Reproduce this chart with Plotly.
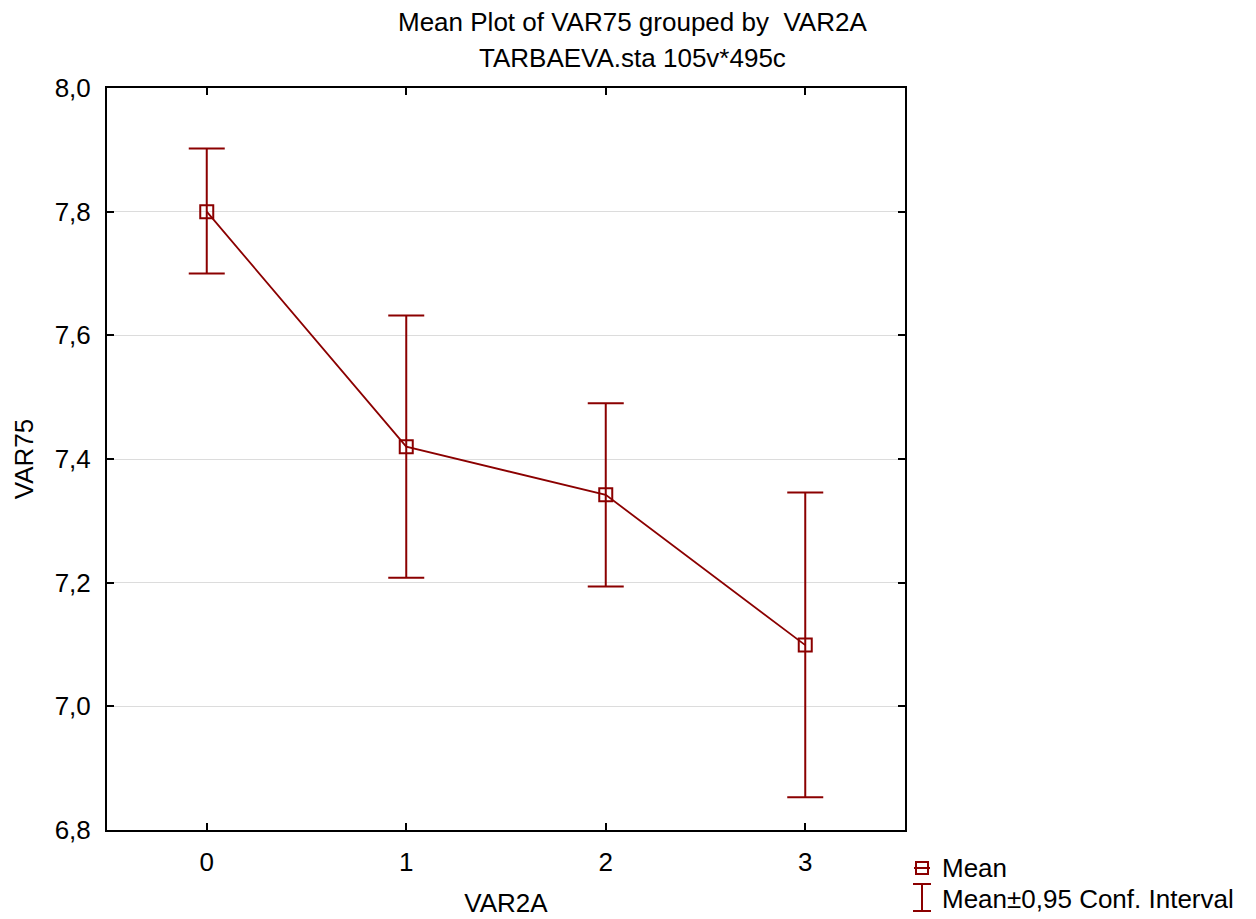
import plotly.graph_objects as go

# Data
categories = [0, 1, 2, 3]
means = [7.800, 7.420, 7.342, 7.099]
ci_upper = [7.902, 7.632, 7.490, 7.346]
ci_lower = [7.700, 7.208, 7.194, 6.853]
y_ticks = [6.8, 7.0, 7.2, 7.4, 7.6, 7.8, 8.0]

RED = "#8b0000"
FONT = "Liberation Sans, Arial, sans-serif"
FS = 26

err_plus = [u - m for u, m in zip(ci_upper, means)]
err_minus = [m - l for m, l in zip(means, ci_lower)]

fig = go.Figure()
fig.add_trace(go.Scatter(
    x=categories, y=means, mode="lines+markers",
    line=dict(color=RED, width=1.8),
    marker=dict(symbol="square-open", size=13, color=RED, line=dict(width=2, color=RED)),
    error_y=dict(type="data", symmetric=False, array=err_plus, arrayminus=err_minus,
                 color=RED, thickness=2, width=18),
    showlegend=False,
))

# The page body has an 8px margin; work in page pixels and shift.
OFF = 8
W, H = 1256 - OFF, 919 - OFF
L, R, T, B = 107 - OFF, 905 - OFF, 88 - OFF, 830 - OFF
pw, ph = R - L, B - T

def px(xp):
    return (xp - OFF - L) / pw

def py(yp):
    return (B - (yp - OFF)) / ph

shapes = []
# Legend icon 1: open square with a horizontal line through it
shapes.append(dict(type="line", xref="paper", yref="paper", x0=px(914), x1=px(930), y0=py(868), y1=py(868),
                   line=dict(color=RED, width=2)))
shapes.append(dict(type="rect", xref="paper", yref="paper", x0=px(916), x1=px(928), y0=py(874), y1=py(862),
                   line=dict(color=RED, width=2), fillcolor="rgba(0,0,0,0)"))
# Legend icon 2: I-beam
shapes.append(dict(type="line", xref="paper", yref="paper", x0=px(922), x1=px(922), y0=py(884), y1=py(911),
                   line=dict(color=RED, width=2)))
shapes.append(dict(type="line", xref="paper", yref="paper", x0=px(913), x1=px(931), y0=py(884), y1=py(884),
                   line=dict(color=RED, width=2)))
shapes.append(dict(type="line", xref="paper", yref="paper", x0=px(913), x1=px(931), y0=py(911), y1=py(911),
                   line=dict(color=RED, width=2)))

annotations = [
    dict(text="Mean Plot of VAR75 grouped by  VAR2A", xref="paper", yref="paper",
         x=px(632), y=py(22), xanchor="center", yanchor="middle", showarrow=False, borderpad=0,
         font=dict(size=FS, color="black", family=FONT)),
    dict(text="TARBAEVA.sta 105v*495c", xref="paper", yref="paper",
         x=px(632), y=py(58), xanchor="center", yanchor="middle", showarrow=False, borderpad=0,
         font=dict(size=FS, color="black", family=FONT)),
    dict(text="Mean", xref="paper", yref="paper", x=px(940), y=py(868),
         xanchor="left", yanchor="middle", showarrow=False,
         font=dict(size=FS, color="black", family=FONT)),
    dict(text="Mean±0,95 Conf. Interval", xref="paper", yref="paper", x=px(940), y=py(899),
         xanchor="left", yanchor="middle", showarrow=False,
         font=dict(size=FS, color="black", family=FONT)),
]

fig.update_layout(
    width=W, height=H, autosize=False,
    margin=dict(l=L, r=W - R, t=T, b=H - B, pad=0),
    paper_bgcolor="white", plot_bgcolor="white",
    separators=", ",
    font=dict(family=FONT, size=FS, color="black"),
    shapes=shapes, annotations=annotations,
)
fig.update_xaxes(
    range=[-0.5, 3.5], tickvals=categories, ticktext=[str(c) for c in categories],
    showline=True, linecolor="black", linewidth=2, mirror="ticks",
    ticks="inside", ticklen=7, tickwidth=1.5, tickcolor="black",
    showgrid=False, zeroline=False, ticklabelstandoff=8,
    tickfont=dict(size=FS),
    title=dict(text="VAR2A", standoff=18, font=dict(size=FS)),
    automargin=False,
)
fig.update_yaxes(
    range=[6.8, 8.0], tickvals=y_ticks, tickformat=".1f",
    showline=True, linecolor="black", linewidth=2, mirror="ticks",
    ticks="inside", ticklen=7, tickwidth=1.5, tickcolor="black",
    showgrid=True, gridcolor="#dcdcdc", gridwidth=1, zeroline=False, ticklabelstandoff=9,
    tickfont=dict(size=FS),
    title=dict(text="VAR75", standoff=14, font=dict(size=FS)),
    automargin=False,
)

fig.write_html("out.html")
